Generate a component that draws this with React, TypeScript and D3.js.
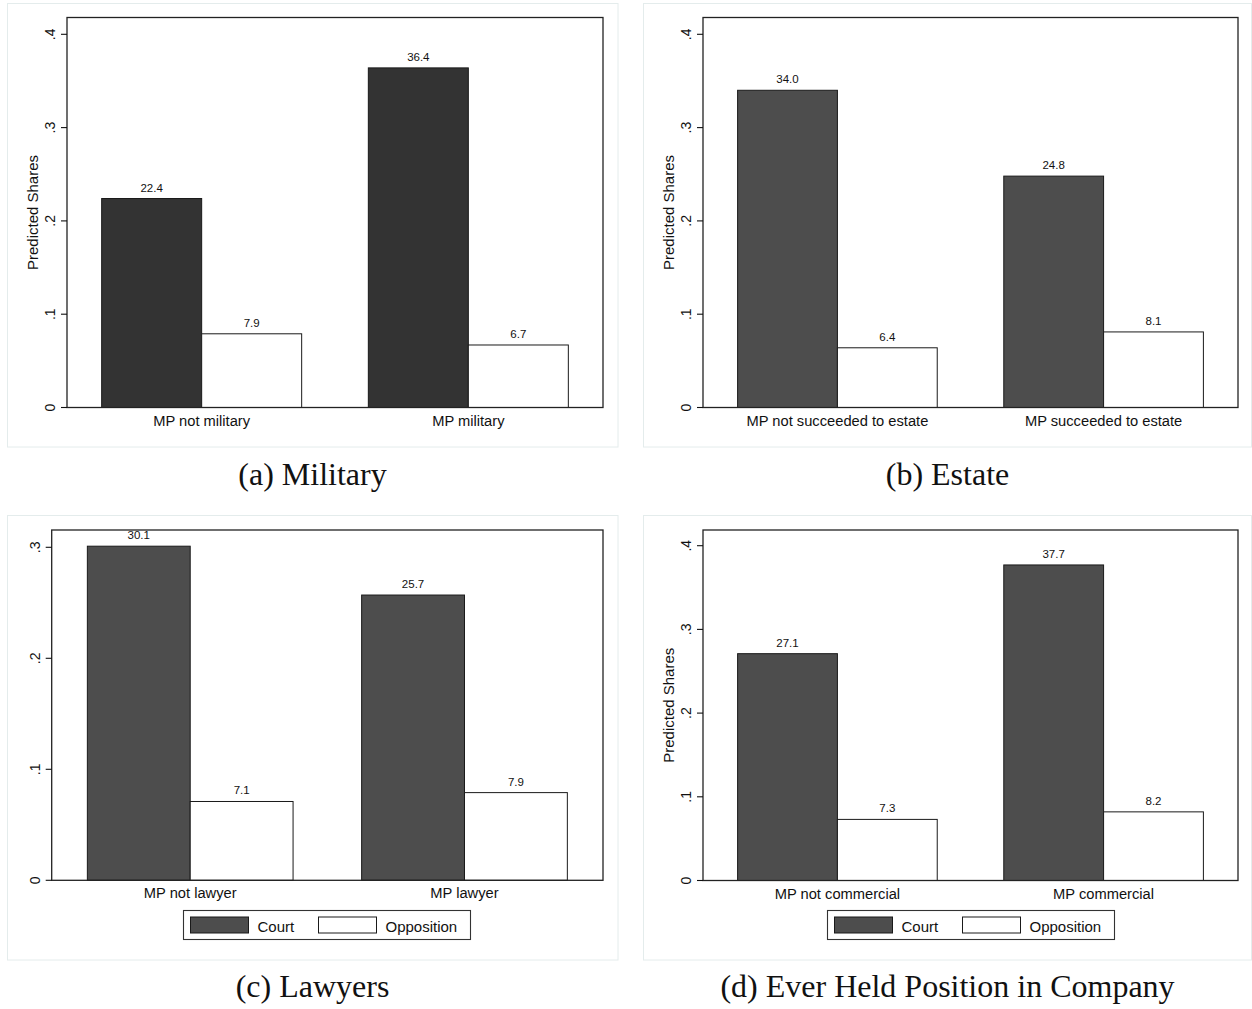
import React from "react";
import * as d3 from "d3";

// ---------- data ----------
const series = ["Court", "Opposition"];
const captions = ["(a) Military", "(b) Estate", "(c) Lawyers", "(d) Ever Held Position in Company"];

const categoriesA = ["MP not military", "MP military"];
const courtA = [22.4, 36.4];
const oppositionA = [7.9, 6.7];

const categoriesB = ["MP not succeeded to estate", "MP succeeded to estate"];
const courtB = [34.0, 24.8];
const oppositionB = [6.4, 8.1];

const categoriesC = ["MP not lawyer", "MP lawyer"];
const courtC = [30.1, 25.7];
const oppositionC = [7.1, 7.9];

const categoriesD = ["MP not commercial", "MP commercial"];
const courtD = [27.1, 37.7];
const oppositionD = [7.3, 8.2];

const ticksABD = ["0", ".1", ".2", ".3", ".4"];
const ticksC = ["0", ".1", ".2", ".3"];
const yTitle = "Predicted Shares";

// ---------- layout ----------
const layouts = [
  { frame: [7.5, 3.5, 618, 447], x0: 67, x1: 603, top: 17.5, zero: 407.5, tickPos: 34.3, ticks: ticksABD, title: true, legend: null, court: "#333333", cap: [312.5, 485], cats: categoriesA, court_v: courtA, opp_v: oppositionA },
  { frame: [643.5, 3.5, 1251.5, 447], x0: 703, x1: 1238, top: 17.5, zero: 407.5, tickPos: 34.3, ticks: ticksABD, title: true, legend: null, court: "#4d4d4d", cap: [947.5, 485], cats: categoriesB, court_v: courtB, opp_v: oppositionB },
  { frame: [7.5, 515.5, 618, 960], x0: 51.7, x1: 603, top: 530, zero: 880.3, tickPos: 547.3, ticks: ticksC, title: false, legend: [183.5, 910.5], court: "#4d4d4d", cap: [312.5, 997], cats: categoriesC, court_v: courtC, opp_v: oppositionC },
  { frame: [643.5, 515.5, 1251.5, 960], x0: 703, x1: 1238, top: 530, zero: 880.5, tickPos: 545.7, ticks: ticksABD, title: true, legend: [827.5, 910.5], court: "#4d4d4d", cap: [947.5, 997], cats: categoriesD, court_v: courtD, opp_v: oppositionD },
];

const SANS = "'Liberation Sans', Arial, Helvetica, sans-serif";
const SERIF = "'Liberation Serif', 'Times New Roman', serif";
const fmt = d3.format(".1f");

function Panel({ L, caption }: { L: any; caption: string }) {
  const tickVals = L.ticks.map((t: string) => parseFloat(t));
  const maxTick = d3.max(tickVals) as number;
  const y = d3.scaleLinear().domain([0, maxTick]).range([L.zero, L.tickPos]);
  const x = d3.scaleBand<string>().domain(L.cats).range([L.x0, L.x1]).paddingInner(0.25).paddingOuter(0.13);
  const xs = d3.scaleBand<string>().domain(series).range([0, x.bandwidth()]);
  const colors: Record<string, string> = { Court: L.court, Opposition: "#ffffff" };
  const rows = L.cats.map((c: string, i: number) => ({ cat: c, Court: L.court_v[i], Opposition: L.opp_v[i] }));
  const [fx0, fy0, fx1, fy1] = L.frame;
  return (
    <g>
      <rect x={fx0} y={fy0} width={fx1 - fx0} height={fy1 - fy0} fill="#fff" stroke="#e4ecec" strokeWidth={1} />
      {/* bars */}
      {rows.map((r: any) =>
        series.map((s) => {
          const v = r[s] / 100;
          const bx = (x(r.cat) as number) + (xs(s) as number);
          return (
            <g key={r.cat + s}>
              <rect x={bx} y={y(v)} width={xs.bandwidth()} height={L.zero - y(v)} fill={colors[s]} stroke="#1a1a1a" strokeWidth={1} />
              <text x={bx + xs.bandwidth() / 2} y={y(v) - 7} textAnchor="middle" fontFamily={SANS} fontSize={11.5} fill="#111">
                {fmt(r[s])}
              </text>
            </g>
          );
        })
      )}
      {/* plot border */}
      <rect x={L.x0} y={L.top} width={L.x1 - L.x0} height={L.zero - L.top} fill="none" stroke="#222" strokeWidth={1.3} />
      {/* y ticks */}
      {tickVals.map((t: number, i: number) => (
        <g key={i}>
          <line x1={L.x0 - 6} x2={L.x0} y1={y(t)} y2={y(t)} stroke="#111" strokeWidth={1.1} />
          <text transform={`translate(${L.x0 - 12},${y(t)}) rotate(-90)`} textAnchor="middle" fontFamily={SANS} fontSize={14} fill="#111">
            {L.ticks[i]}
          </text>
        </g>
      ))}
      {L.title && (
        <text transform={`translate(${L.x0 - 29},${(L.top + L.zero) / 2}) rotate(-90)`} textAnchor="middle" fontFamily={SANS} fontSize={15} fill="#111">
          {yTitle}
        </text>
      )}
      {/* category labels */}
      {L.cats.map((c: string) => (
        <text key={c} x={(x(c) as number) + x.bandwidth() / 2} y={L.zero + 18} textAnchor="middle" fontFamily={SANS} fontSize={14.7} fill="#111">
          {c}
        </text>
      ))}
      {/* legend */}
      {L.legend && (
        <g transform={`translate(${L.legend[0]},${L.legend[1]})`}>
          <rect x={0} y={0} width={287} height={29} fill="#fff" stroke="#333" strokeWidth={1.1} />
          {series.map((s, i) => (
            <g key={s} transform={`translate(${7 + i * 128},0)`}>
              <rect x={0} y={6.5} width={58} height={16} fill={colors[s]} stroke="#1a1a1a" strokeWidth={1} />
              <text x={67} y={21} fontFamily={SANS} fontSize={15} fill="#111">
                {s}
              </text>
            </g>
          ))}
        </g>
      )}
      <text x={L.cap[0]} y={L.cap[1]} textAnchor="middle" fontFamily={SERIF} fontSize={32} fill="#111">
        {caption}
      </text>
    </g>
  );
}

export default function App() {
  return (
    <svg width={1252} height={1009} style={{ position: "absolute", left: 0, top: 0, background: "#fff" }}>
      <rect x={0} y={0} width={1252} height={1009} fill="#fff" />
      {layouts.map((L, i) => (
        <Panel key={i} L={L} caption={captions[i]} />
      ))}
    </svg>
  );
}
